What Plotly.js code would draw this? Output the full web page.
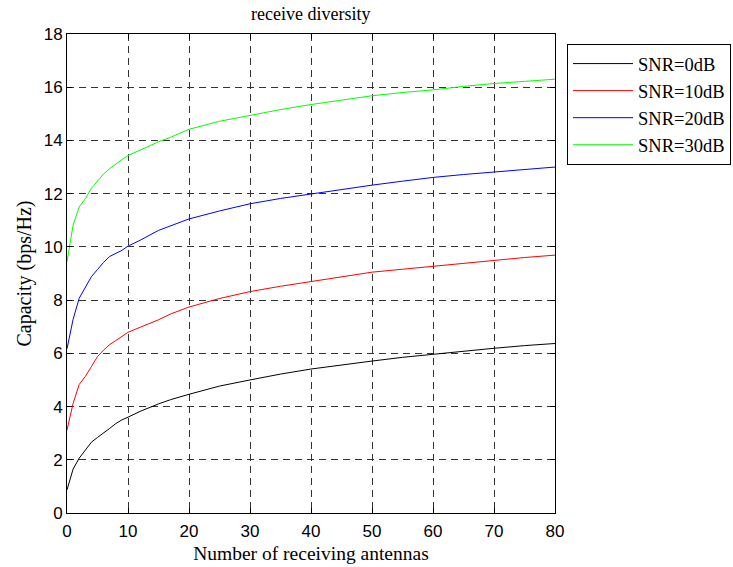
<!DOCTYPE html>
<html>
<head>
<meta charset="utf-8">
<script src="https://cdn.plot.ly/plotly-3.0.1.min.js"></script>
<style>html,body{margin:0;padding:0;background:#fff;overflow:hidden;}#chart{width:733px;height:567px;}</style>
</head>
<body>
<div id="chart"></div>
<script>
var antennas = [0,1,2,3,4,5,6,7,8,9,10,12,15,17,20,25,30,35,40,45,50,55,60,65,70,75,80];
var snr0  = [0.87,1.65,2.06,2.38,2.66,2.84,3.0,3.18,3.36,3.5,3.6,3.82,4.1,4.26,4.46,4.77,5.0,5.22,5.41,5.57,5.71,5.85,5.97,6.08,6.19,6.29,6.37];
var snr10 = [3.12,4.12,4.83,5.13,5.5,5.88,6.12,6.33,6.48,6.63,6.79,6.98,7.26,7.48,7.74,8.06,8.32,8.52,8.7,8.88,9.05,9.16,9.27,9.39,9.51,9.6,9.69];
var snr20 = [6.17,7.28,8.07,8.5,8.88,9.15,9.42,9.64,9.74,9.87,10.03,10.25,10.62,10.8,11.05,11.35,11.62,11.82,11.99,12.16,12.32,12.47,12.61,12.72,12.82,12.92,13.0];
var snr30 = [9.44,10.82,11.5,11.81,12.2,12.48,12.74,12.94,13.12,13.28,13.43,13.65,13.95,14.12,14.42,14.72,14.95,15.16,15.35,15.52,15.68,15.8,15.9,16.03,16.14,16.22,16.3];
var seriesNames = ['SNR=0dB','SNR=10dB','SNR=20dB','SNR=30dB'];
var seriesColors = ['#000000','#ff0000','#0000ff','#00ff00'];
var seriesData = [snr0, snr10, snr20, snr30];

var traces = seriesData.map(function(d, i){
  return {x: antennas, y: d, type: 'scatter', mode: 'lines', name: seriesNames[i],
          line: {color: seriesColors[i], width: 1}};
});

var serif = 'Liberation Serif, Times New Roman, serif';
var sans = 'Liberation Sans, Arial, sans-serif';
var axisCommon = {
  showline: true, linecolor: '#000', linewidth: 1, mirror: 'ticks',
  ticks: 'inside', ticklen: 5, tickcolor: '#000', tickwidth: 1,
  showgrid: true, gridcolor: '#333', gridwidth: 1, griddash: '7px,5px',
  zeroline: false, tickfont: {family: sans, size: 17, color: '#000'}
};

var layout = {
  width: 733, height: 567,
  margin: {l: 67, r: 178, t: 34, b: 54, autoexpand: false},
  paper_bgcolor: '#fff', plot_bgcolor: '#fff',
  showlegend: true,
  title: {text: 'receive diversity', font: {family: serif, size: 18, color: '#000'},
          x: 0.424, xanchor: 'center', y: 0.975, yanchor: 'middle'},
  xaxis: Object.assign({}, axisCommon, {
    range: [0, 80], dtick: 10, tick0: 0, ticklabelstandoff: 3,
    title: {text: 'Number of receiving antennas', font: {family: serif, size: 19.5, color: '#000'}, standoff: 5}
  }),
  yaxis: Object.assign({}, axisCommon, {
    range: [0, 18], dtick: 2, tick0: 0, ticklabelstandoff: 0,
    title: {text: 'Capacity (bps/Hz)', font: {family: serif, size: 20, color: '#000'}, standoff: 6}
  }),
  legend: {
    x: 1.0246, xanchor: 'left', y: 0.979, yanchor: 'top',
    bgcolor: '#fff', bordercolor: '#000', borderwidth: 1,
    font: {family: serif, size: 18.5, color: '#000'},
    itemwidth: 60, tracegroupgap: 0
  }
};

Plotly.newPlot('chart', traces, layout, {displayModeBar: false, staticPlot: true});
</script>
</body>
</html>
